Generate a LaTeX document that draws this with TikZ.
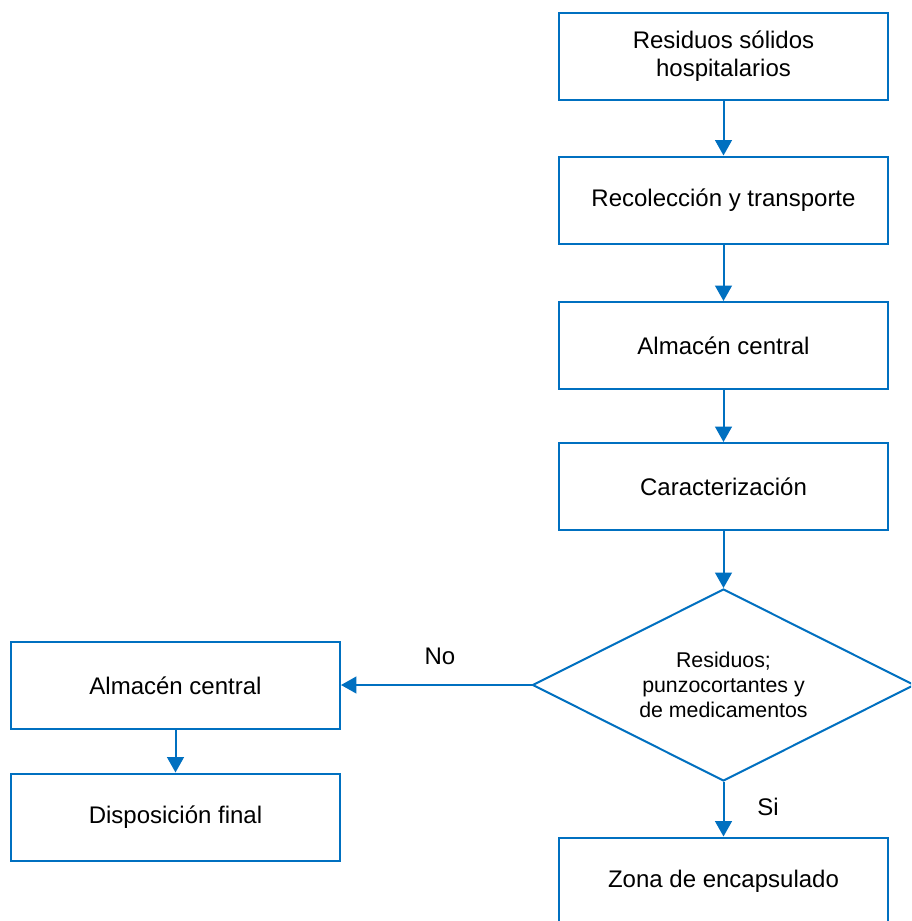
\documentclass[tikz,border=0pt]{standalone}
\usepackage{fontspec}
\setmainfont{Liberation Sans}
\usetikzlibrary{shapes.geometric,arrows.meta}
\definecolor{flowblue}{RGB}{0,112,192}
\begin{document}
\begin{tikzpicture}[x=0.75pt,y=-0.75pt,
  box/.style={draw=flowblue,line width=1.5pt,fill=white,minimum width=246.75pt,minimum height=65.25pt,inner sep=0pt,align=center,font=\fontsize{18}{21}\selectfont},
  decision/.style={diamond,aspect=2,draw=flowblue,line width=1.5pt,fill=white,minimum width=286.5pt,minimum height=144pt,inner sep=0pt,align=center,font=\fontsize{16}{18.75}\selectfont},
  link/.style={draw=flowblue,line width=1.5pt,-{Triangle[length=11.5pt,width=12.5pt]}},
  lbl/.style={font=\fontsize{18}{21}\selectfont}]
\clip (0,0) rectangle (911,921);
\fill[white] (0,0) rectangle (911,921);
\node[box] (b1) at (723.5,56.5) {Residuos sólidos\\hospitalarios};
\node[box] (b2) at (723.5,200) {Recolección y transporte};
\node[box] (b3) at (723.5,345.5) {Almacén central};
\node[box] (b4) at (723.5,486.5) {Caracterización};
\node[decision] (d) at (723.5,685) {Residuos;\\punzocortantes y\\de medicamentos};
\node[box] (b5) at (723.5,881) {Zona de encapsulado};
\node[box] (a1) at (175.5,685.5) {Almacén central};
\node[box] (a2) at (175.5,817) {Disposición final};
\draw[link] (b1) -- (b2);
\draw[link] (b2) -- (b3);
\draw[link] (b3) -- (b4);
\draw[link] (b4) -- (d);
\draw[link] (d) -- (b5);
\draw[link] (d.west) -- (d.west -| a1.east);
\draw[link] (a1) -- (a2);
\node[lbl] (no) at (440,656) {No};
\node[lbl] (si) at (768,807) {Si};
\end{tikzpicture}
\end{document}
